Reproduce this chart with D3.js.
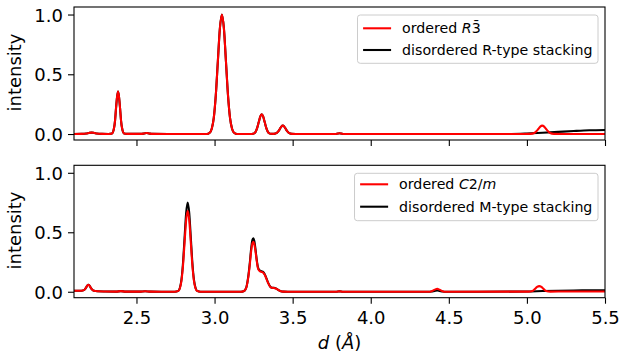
<!DOCTYPE html>
<html><head><meta charset="utf-8">
<script src="https://cdn.jsdelivr.net/npm/d3@7"></script>
<style>
html,body{margin:0;padding:0;background:#fff;}
svg text{font-family:"DejaVu Sans",sans-serif;}
</style></head>
<body>
<svg id="chart" width="621" height="355"></svg>
<script>
// ---- data (d in Å, normalized intensity) ----
const xTicks = [2.5, 3.0, 3.5, 4.0, 4.5, 5.0, 5.5];
const yTicks = [0.0, 0.5, 1.0];

const topBlack = [[2.10,0],[2.15,0.001],[2.18,0.005],[2.195,0.009],[2.213,0.012],[2.23,0.009],[2.245,0.005],[2.28,0.001],[2.32,0],
 [2.343,0.004],[2.356,0.048],[2.363,0.115],[2.369,0.215],[2.376,0.313],[2.382,0.355],[2.388,0.313],[2.395,0.215],[2.401,0.115],[2.408,0.048],[2.421,0.004],[2.44,0.001],
 [2.53,0.001],[2.55,0.005],[2.565,0.008],[2.58,0.005],[2.60,0.001],[2.70,0],[2.95,0],
 [2.969,0.011],[2.982,0.044],[2.995,0.135],[3.008,0.325],[3.021,0.607],[3.034,0.882],[3.047,1.0],[3.060,0.882],[3.073,0.607],[3.086,0.325],[3.099,0.135],[3.112,0.044],[3.125,0.011],[3.145,0],
 [3.23,0],[3.245,0.002],[3.2545,0.007],[3.264,0.022],[3.2735,0.054],[3.283,0.100],[3.2925,0.146],[3.302,0.165],[3.3115,0.146],[3.321,0.100],[3.3305,0.054],[3.340,0.022],[3.3495,0.007],[3.359,0.002],
 [3.380,0.001],[3.399,0.009],[3.4085,0.023],[3.418,0.042],[3.4275,0.062],[3.437,0.070],[3.4465,0.062],[3.456,0.042],[3.4655,0.023],[3.475,0.009],[3.494,0.001],[3.52,0],
 [3.77,0],[3.79,0.004],[3.80,0.006],[3.81,0.004],[3.83,0],[4.9,0],[5.0,0.004],[5.1,0.011],[5.2,0.018],[5.3,0.025],[5.4,0.031],[5.5,0.034]];

const topRed = [[2.10,0],[2.15,0.001],[2.18,0.005],[2.195,0.009],[2.213,0.012],[2.23,0.009],[2.245,0.005],[2.28,0.001],[2.32,0],
 [2.343,0.004],[2.356,0.048],[2.363,0.115],[2.369,0.215],[2.376,0.313],[2.382,0.355],[2.388,0.313],[2.395,0.215],[2.401,0.115],[2.408,0.048],[2.421,0.004],[2.44,0.001],
 [2.53,0.001],[2.55,0.005],[2.565,0.008],[2.58,0.005],[2.60,0.001],[2.70,0],[2.95,0],
 [2.969,0.011],[2.982,0.044],[2.995,0.135],[3.008,0.325],[3.021,0.607],[3.034,0.882],[3.047,1.0],[3.060,0.882],[3.073,0.607],[3.086,0.325],[3.099,0.135],[3.112,0.044],[3.125,0.011],[3.145,0],
 [3.23,0],[3.245,0.002],[3.2545,0.007],[3.264,0.022],[3.2735,0.054],[3.283,0.100],[3.2925,0.146],[3.302,0.165],[3.3115,0.146],[3.321,0.100],[3.3305,0.054],[3.340,0.022],[3.3495,0.007],[3.359,0.002],
 [3.380,0.001],[3.399,0.009],[3.4085,0.023],[3.418,0.042],[3.4275,0.062],[3.437,0.070],[3.4465,0.062],[3.456,0.042],[3.4655,0.023],[3.475,0.009],[3.494,0.001],[3.52,0],
 [3.77,0],[3.79,0.004],[3.80,0.006],[3.81,0.004],[3.83,0],[4.9,0],
 [5.023,0.001],[5.048,0.009],[5.0605,0.023],[5.073,0.042],[5.0855,0.062],[5.098,0.070],[5.1105,0.062],[5.123,0.042],[5.1355,0.023],[5.148,0.009],[5.173,0.001],[5.25,0],[5.5,0]];

const botBlack = [[2.10,0.009],[2.14,0.008],[2.156,0.010],[2.168,0.018],[2.174,0.028],[2.180,0.041],[2.186,0.054],[2.192,0.059],[2.198,0.054],[2.204,0.041],[2.210,0.028],[2.216,0.018],[2.228,0.008],[2.25,0.004],[2.30,0.002],
 [2.37,0.001],[2.40,0.005],[2.43,0.001],[2.52,0.001],[2.555,0.004],[2.59,0.001],[2.70,0],[2.745,0],
 [2.768,0.008],[2.778,0.033],[2.788,0.101],[2.798,0.244],[2.808,0.455],[2.818,0.662],[2.828,0.750],[2.838,0.662],[2.848,0.455],[2.858,0.244],[2.868,0.101],[2.878,0.033],[2.888,0.008],[2.91,0],
 [3.17,0],[3.185,0.004],[3.195,0.014],[3.205,0.045],[3.215,0.120],[3.225,0.235],[3.235,0.370],[3.242,0.435],[3.248,0.450],[3.255,0.425],[3.262,0.360],[3.270,0.270],[3.278,0.205],[3.288,0.180],[3.300,0.172],[3.312,0.165],[3.322,0.145],[3.333,0.110],[3.345,0.070],[3.357,0.042],[3.368,0.034],[3.380,0.033],[3.392,0.028],[3.405,0.018],[3.420,0.007],[3.440,0.001],[3.47,0],
 [3.78,0],[3.80,0.003],[3.82,0],[4.37,0],[4.39,0.002],[4.41,0.007],[4.426,0.010],[4.44,0.007],[4.46,0.002],[4.48,0],
 [5.0,0.002],[5.1,0.006],[5.2,0.009],[5.3,0.011],[5.4,0.012],[5.5,0.013]];

const botRed = [[2.10,0.009],[2.14,0.008],[2.156,0.010],[2.168,0.018],[2.174,0.028],[2.180,0.041],[2.186,0.054],[2.192,0.059],[2.198,0.054],[2.204,0.041],[2.210,0.028],[2.216,0.018],[2.228,0.008],[2.25,0.004],[2.30,0.002],
 [2.37,0.001],[2.40,0.005],[2.43,0.001],[2.52,0.001],[2.555,0.004],[2.59,0.001],[2.70,0],[2.745,0],
 [2.768,0.007],[2.778,0.030],[2.788,0.092],[2.798,0.221],[2.808,0.413],[2.818,0.600],[2.828,0.680],[2.838,0.600],[2.848,0.413],[2.858,0.221],[2.868,0.092],[2.878,0.030],[2.888,0.007],[2.91,0],
 [3.17,0],[3.185,0.004],[3.195,0.013],[3.205,0.042],[3.215,0.112],[3.225,0.220],[3.235,0.348],[3.242,0.405],[3.248,0.420],[3.255,0.398],[3.262,0.340],[3.270,0.260],[3.278,0.198],[3.288,0.175],[3.300,0.167],[3.312,0.160],[3.322,0.140],[3.333,0.106],[3.345,0.068],[3.357,0.041],[3.368,0.033],[3.380,0.032],[3.392,0.027],[3.405,0.017],[3.420,0.007],[3.440,0.001],[3.47,0],
 [3.78,0],[3.80,0.003],[3.82,0],[4.37,0],[4.39,0.005],[4.41,0.018],[4.426,0.025],[4.44,0.018],[4.46,0.005],[4.48,0],
 [5.01,0.001],[5.035,0.007],[5.05,0.022],[5.065,0.040],[5.079,0.047],[5.093,0.040],[5.108,0.022],[5.123,0.007],[5.15,0.001],[5.25,0.002],[5.5,0.002]];

const panels = [
  {top:7, bottom:140, black:topBlack, red:topRed, labels:false,
   legend:[{color:"red", parts:[["ordered ",""],["R","italic"],["3\u0304",""]]},
           {color:"black", parts:[["disordered R-type stacking",""]]}],
   legTop:15, rows:[13.3,35], legH:48.3},
  {top:165.3, bottom:297.7, black:botBlack, red:botRed, labels:true,
   legend:[{color:"red", parts:[["ordered ",""],["C","italic"],["2/",""],["m","italic"]]},
           {color:"black", parts:[["disordered M-type stacking",""]]}],
   legTop:173.3, rows:[11,33.4], legH:47.4}
];

const svg = d3.select("#chart");
const L = 74, R = 605, FS = 18, LFS = 14.2, TL = 6;
const x = d3.scaleLinear().domain([2.1, 5.5]).range([L, R]);

panels.forEach((p, i) => {
  const y = d3.scaleLinear().domain([-0.05, 1.063]).range([p.bottom, p.top]);
  const g = svg.append("g");
  const cid = "clip" + i;
  svg.append("defs").append("clipPath").attr("id", cid)
     .append("rect").attr("x", L).attr("y", p.top).attr("width", R - L).attr("height", p.bottom - p.top);

  const line = d3.line().x(d => x(d[0])).y(d => y(d[1])).curve(d3.curveMonotoneX);
  const lines = g.append("g").attr("clip-path", `url(#${cid})`);
  lines.append("path").datum(p.black).attr("d", line).attr("fill", "none")
       .attr("stroke", "black").attr("stroke-width", 2.08).attr("stroke-linejoin", "round");
  lines.append("path").datum(p.red).attr("d", line).attr("fill", "none")
       .attr("stroke", "red").attr("stroke-width", 2.08).attr("stroke-linejoin", "round");

  // axes
  const xa = d3.axisBottom(x).tickValues(xTicks).tickSize(TL).tickPadding(7.3)
               .tickFormat(p.labels ? d3.format(".1f") : () => "");
  const gx = g.append("g").attr("transform", `translate(0,${p.bottom})`).call(xa);
  const ya = d3.axisLeft(y).tickValues(yTicks).tickSize(TL).tickPadding(5).tickFormat(d3.format(".1f"));
  const gy = g.append("g").attr("transform", `translate(${L},0)`).call(ya);
  [gx, gy].forEach(a => {
    a.select(".domain").remove();
    a.selectAll(".tick line").attr("stroke", "black").attr("stroke-width", 1.1);
    a.selectAll(".tick text").attr("font-size", FS).attr("fill", "black")
      .attr("font-family", "DejaVu Sans");
  });
  gy.selectAll(".tick text").attr("dy", "0.36em");

  // frame
  g.append("rect").attr("x", L).attr("y", p.top).attr("width", R - L).attr("height", p.bottom - p.top)
   .attr("fill", "none").attr("stroke", "black").attr("stroke-width", 1.1);

  // y label
  g.append("text").attr("transform", `translate(${21},${(p.top + p.bottom) / 2 - 1}) rotate(-90)`)
   .attr("text-anchor", "middle").attr("font-size", FS).attr("fill", "black").text("intensity");

  // legend
  const lg = svg.append("g");
  const box = lg.append("rect").attr("y", p.legTop).attr("height", p.legH).attr("rx", 2.8)
    .attr("fill", "white").attr("fill-opacity", 0.8).attr("stroke", "#cccccc").attr("stroke-width", 1);
  const texts = [];
  p.legend.forEach((item, k) => {
    const t = lg.append("text").attr("y", p.legTop + p.rows[k]).attr("dy", "0.36em")
      .attr("font-size", LFS).attr("fill", "black");
    item.parts.forEach(pt => t.append("tspan").attr("font-style", pt[1] || null).text(pt[0]));
    texts.push(t);
  });
  const tw = d3.max(texts, t => t.node().getComputedTextLength());
  const pad = 5.6, hl = 28, htp = 11;
  const right = R - 7;
  const left = right - (pad + hl + htp + tw + pad);
  box.attr("x", left).attr("width", right - left);
  p.legend.forEach((item, k) => {
    lg.append("line").attr("x1", left + pad).attr("x2", left + pad + hl)
      .attr("y1", p.legTop + p.rows[k]).attr("y2", p.legTop + p.rows[k])
      .attr("stroke", item.color).attr("stroke-width", 2.08);
    texts[k].attr("x", left + pad + hl + htp);
  });
});

// x label
const xl = svg.append("text").attr("x", (L + R) / 2).attr("y", 349).attr("text-anchor", "middle")
  .attr("font-size", FS).attr("fill", "black");
xl.append("tspan").attr("font-style", "italic").text("d");
xl.append("tspan").text(" (");
xl.append("tspan").attr("font-style", "italic").text("Å");
xl.append("tspan").text(")");
</script>
</body></html>
